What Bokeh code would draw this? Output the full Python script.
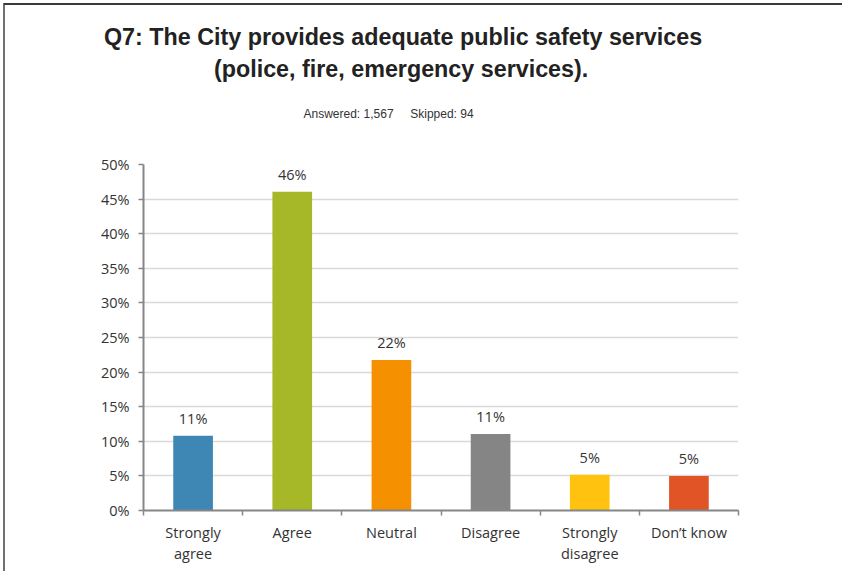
import numpy as np
from bokeh.plotting import figure
from bokeh.models import (Range1d, FixedTicker, NumeralTickFormatter, Title, ColumnDataSource)
from bokeh.core.properties import value
from bokeh.embed import file_html
from bokeh.resources import INLINE

# ---- data ----
categories = ["Strongly\nagree", "Agree", "Neutral", "Disagree", "Strongly\ndisagree", "Don\u2019t know"]
values = [0.108, 0.4605, 0.2175, 0.1105, 0.0515, 0.0497]
value_labels = ["11%", "46%", "22%", "11%", "5%", "5%"]
colors = ["#3E87B5", "#A6B828", "#F59100", "#858585", "#FFC20E", "#E05426"]
y_ticks = [0.0, 0.05, 0.10, 0.15, 0.20, 0.25, 0.30, 0.35, 0.40, 0.45, 0.50]
title_lines = ["Q7: The City provides adequate public safety services",
               "(police, fire, emergency services)."]
subtitle = "Answered: 1,567\u00a0\u00a0\u00a0\u00a0\u00a0Skipped: 94"

xs = [i + 0.5 for i in range(len(categories))]
src = ColumnDataSource(dict(x=xs, top=values, color=colors, lab=value_labels))

FRAME_L, FRAME_T, FRAME_W, FRAME_H = 143, 164, 595, 346
FRAME_B = FRAME_T + FRAME_H
CANVAS_W, CANVAS_H = 842, 571

frame_css = ("linear-gradient(#3a3a3a,#3a3a3a) 4px 3px / 838px 2px no-repeat, "
             "linear-gradient(#707070,#707070) 3px 3px / 2px 568px no-repeat, white")

p = figure(output_backend="svg", toolbar_location=None,
           frame_width=FRAME_W, frame_height=FRAME_H,
           min_border_left=FRAME_L, min_border_top=FRAME_T,
           min_border_right=CANVAS_W - FRAME_L - FRAME_W, min_border_bottom=CANVAS_H - FRAME_B,
           x_range=Range1d(0, len(categories)), y_range=Range1d(0, 0.5),
           styles={"background": frame_css})
p.title.visible = False
p.outline_line_color = None
p.background_fill_color = "white"
p.border_fill_color = None

p.vbar(x="x", top="top", width=0.4, bottom=0, color="color", line_color=None, source=src)
p.text(x="x", y="top", text="lab", source=src, text_align="center", text_baseline="bottom",
       y_offset=-8, text_font=value("Open Sans"), text_font_size="14.5px", text_color="#333333")

# axes
p.xgrid.visible = False
p.ygrid.ticker = FixedTicker(ticks=y_ticks)
p.ygrid.grid_line_color = "#D9D9D9"
p.ygrid.grid_line_width = 1.5

ya = p.yaxis[0]
ya.ticker = FixedTicker(ticks=y_ticks)
ya.formatter = NumeralTickFormatter(format="0%")
ya.axis_line_color = "#868686"
ya.axis_line_width = 2
ya.major_tick_line_color = "#868686"
ya.major_tick_line_width = 1.5
ya.major_tick_out = 5
ya.major_tick_in = 0
ya.minor_tick_line_color = None
ya.major_label_text_font = "Open Sans"
ya.major_label_text_font_size = "14.5px"
ya.major_label_text_color = "#333333"
ya.major_label_standoff = 9

xa = p.xaxis[0]
xa.ticker = FixedTicker(ticks=xs, minor_ticks=list(range(len(categories) + 1)))
xa.major_label_overrides = {x: c for x, c in zip(xs, categories)}
xa.axis_line_color = "#868686"
xa.axis_line_width = 2
xa.major_tick_line_color = None
xa.minor_tick_line_color = "#868686"
xa.minor_tick_line_width = 1.5
xa.minor_tick_out = 5
xa.minor_tick_in = 0
xa.major_label_text_font = "Open Sans"
xa.major_label_text_font_size = "14.5px"
xa.major_label_text_color = "#333333"
xa.major_label_text_line_height = 1.15
xa.major_label_standoff = 6

# titles stacked above the frame (first added = closest to the frame); left-aligned with offsets
def add_title(text, left_x, size, standoff, bold=False, color="#222222"):
    p.add_layout(Title(text=text, align="left", offset=left_x - FRAME_L, standoff=standoff,
                       text_font="Liberation Sans", text_font_size=size,
                       text_font_style="bold" if bold else "normal", text_color=color), "above")

add_title(" ", FRAME_L, "1px", 24)                       # spacer
add_title(subtitle, 303, "12px", 34, color="#333333")
add_title(title_lines[1], 213.5, "23.3px", 11.3, bold=True)
add_title(title_lines[0], 103.5, "23.3px", -2.7, bold=True)

open("out.html", "w").write(file_html(p, INLINE))
